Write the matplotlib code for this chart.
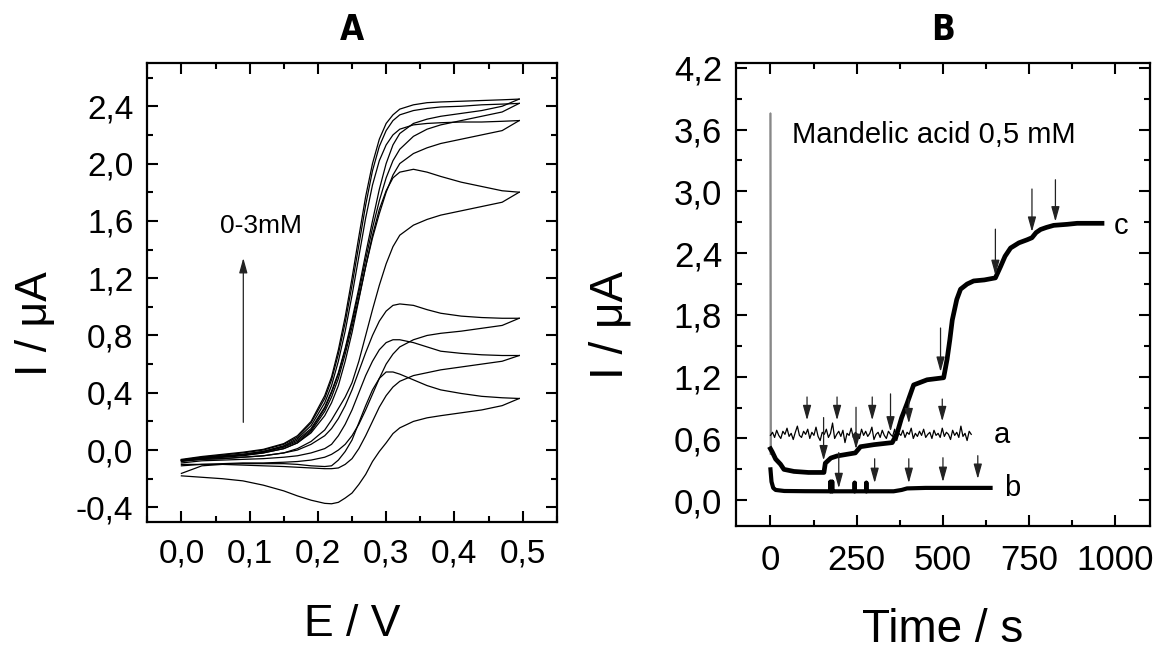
import matplotlib
matplotlib.use("Agg")
import matplotlib.pyplot as plt
from matplotlib.ticker import MultipleLocator

plt.rcParams['font.family'] = ['Liberation Sans', 'DejaVu Sans']

# --- Panel A: cyclic voltammograms (0-3 mM) ---
potential = [0.00, 0.03, 0.06, 0.09, 0.12, 0.15, 0.17, 0.19, 0.21, 0.22, 0.23, 0.24, 0.25, 0.26,
             0.27, 0.28, 0.29, 0.30, 0.31, 0.32, 0.34, 0.36, 0.38, 0.41, 0.44, 0.47, 0.495]

cv_forward = [
    [-0.163, -0.11, -0.10, -0.095, -0.095, -0.095, -0.10, -0.11, -0.115, -0.11, -0.07, -0.01, 0.07, 0.19,
     0.31, 0.42, 0.50, 0.545, 0.545, 0.53, 0.49, 0.45, 0.42, 0.395, 0.375, 0.365, 0.36],
    [-0.09, -0.075, -0.07, -0.065, -0.06, -0.05, -0.04, -0.02, 0.01, 0.04, 0.10, 0.18, 0.28, 0.40,
     0.52, 0.62, 0.70, 0.75, 0.77, 0.77, 0.75, 0.72, 0.69, 0.675, 0.665, 0.66, 0.66],
    [-0.08, -0.065, -0.06, -0.05, -0.04, -0.02, 0.00, 0.04, 0.10, 0.15, 0.22, 0.31, 0.42, 0.55,
     0.68, 0.80, 0.90, 0.97, 1.01, 1.02, 1.01, 0.98, 0.955, 0.935, 0.925, 0.92, 0.92],
    [-0.07, -0.055, -0.045, -0.035, -0.02, 0.01, 0.05, 0.12, 0.24, 0.33, 0.45, 0.62, 0.82, 1.05,
     1.28, 1.50, 1.68, 1.81, 1.90, 1.94, 1.96, 1.94, 1.91, 1.87, 1.84, 1.81, 1.80],
    [-0.07, -0.05, -0.04, -0.03, -0.01, 0.03, 0.08, 0.17, 0.33, 0.45, 0.62, 0.83, 1.08, 1.35,
     1.62, 1.85, 2.02, 2.13, 2.20, 2.24, 2.27, 2.28, 2.285, 2.29, 2.29, 2.295, 2.30],
    [-0.07, -0.05, -0.035, -0.02, 0.00, 0.04, 0.09, 0.19, 0.36, 0.49, 0.67, 0.89, 1.15, 1.43,
     1.71, 1.95, 2.12, 2.23, 2.30, 2.34, 2.37, 2.385, 2.395, 2.40, 2.41, 2.415, 2.42],
    [-0.065, -0.045, -0.03, -0.015, 0.005, 0.045, 0.10, 0.20, 0.38, 0.51, 0.70, 0.93, 1.20, 1.49,
     1.77, 2.00, 2.17, 2.28, 2.34, 2.38, 2.41, 2.425, 2.43, 2.435, 2.44, 2.445, 2.45],
]

cv_reverse = [
    [-0.18, -0.19, -0.20, -0.215, -0.245, -0.285, -0.32, -0.35, -0.372, -0.375, -0.365, -0.335, -0.30, -0.24,
     -0.17, -0.08, -0.01, 0.05, 0.115, 0.155, 0.20, 0.225, 0.24, 0.26, 0.28, 0.31, 0.36],
    [-0.11, -0.10, -0.10, -0.105, -0.11, -0.115, -0.12, -0.125, -0.13, -0.13, -0.125, -0.10, -0.06, 0.01,
     0.10, 0.20, 0.30, 0.38, 0.44, 0.48, 0.52, 0.54, 0.56, 0.58, 0.60, 0.62, 0.66],
    [-0.10, -0.10, -0.095, -0.09, -0.09, -0.085, -0.08, -0.07, -0.05, -0.03, 0.00, 0.04, 0.10, 0.18,
     0.28, 0.39, 0.50, 0.60, 0.67, 0.72, 0.77, 0.80, 0.815, 0.83, 0.85, 0.87, 0.92],
    [-0.075, -0.065, -0.06, -0.05, -0.04, -0.02, 0.01, 0.06, 0.14, 0.21, 0.29, 0.37, 0.47, 0.62,
     0.80, 0.98, 1.15, 1.30, 1.42, 1.50, 1.57, 1.61, 1.64, 1.67, 1.70, 1.73, 1.80],
    [-0.07, -0.06, -0.05, -0.04, -0.02, 0.01, 0.05, 0.13, 0.27, 0.37, 0.50, 0.67, 0.86, 1.06,
     1.28, 1.48, 1.65, 1.80, 1.92, 2.00, 2.07, 2.11, 2.14, 2.17, 2.20, 2.23, 2.30],
    [-0.075, -0.06, -0.05, -0.035, -0.015, 0.02, 0.06, 0.14, 0.29, 0.40, 0.53, 0.70, 0.89, 1.10,
     1.33, 1.55, 1.74, 1.90, 2.02, 2.10, 2.19, 2.24, 2.27, 2.30, 2.33, 2.36, 2.42],
    [-0.07, -0.055, -0.045, -0.03, -0.01, 0.025, 0.07, 0.15, 0.30, 0.41, 0.54, 0.71, 0.91, 1.13,
     1.37, 1.60, 1.82, 2.00, 2.13, 2.21, 2.28, 2.31, 2.33, 2.35, 2.37, 2.40, 2.45],
]

a_yticks = [-0.4, 0.0, 0.4, 0.8, 1.2, 1.6, 2.0, 2.4]
a_ylabels = ['-0,4', '0,0', '0,4', '0,8', '1,2', '1,6', '2,0', '2,4']
a_xticks = [0.0, 0.1, 0.2, 0.3, 0.4, 0.5]
a_xlabels = ['0,0', '0,1', '0,2', '0,3', '0,4', '0,5']

# --- Panel B: amperometric responses ---
a_time = [0, 6, 12, 18, 24, 30, 36, 42, 48, 54, 60, 66, 72, 78, 84, 90, 96, 102, 108, 114,
          120, 126, 132, 138, 144, 150, 156, 162, 168, 174, 180, 186, 192, 198, 204, 210, 216, 222, 228, 234,
          240, 246, 252, 258, 264, 270, 276, 282, 288, 294, 300, 306, 312, 318, 324, 330, 336, 342, 348, 354,
          360, 366, 372, 378, 384, 390, 396, 402, 408, 414, 420, 426, 432, 438, 444, 450, 456, 462, 468, 474,
          480, 486, 492, 498, 504, 510, 516, 522, 528, 534, 540, 546, 552, 558, 564, 570, 576, 582]
a_current = [0.63, 0.66, 0.61, 0.68, 0.63, 0.60, 0.67, 0.64, 0.70, 0.62, 0.65, 0.59, 0.66, 0.72, 0.63, 0.61, 0.67, 0.64, 0.69, 0.60,
             0.66, 0.63, 0.71, 0.62, 0.58, 0.66, 0.64, 0.69, 0.61, 0.65, 0.75, 0.60, 0.64, 0.67, 0.62, 0.68, 0.56, 0.65, 0.63, 0.70,
             0.61, 0.66, 0.64, 0.60, 0.69, 0.63, 0.67, 0.62, 0.65, 0.71, 0.59, 0.64, 0.66, 0.61, 0.68, 0.63, 0.60, 0.67, 0.64, 0.62,
             0.69, 0.58, 0.65, 0.63, 0.68, 0.61, 0.66, 0.64, 0.70, 0.60, 0.65, 0.62, 0.67, 0.63, 0.69, 0.61, 0.64, 0.66, 0.60, 0.68,
             0.63, 0.65, 0.61, 0.70, 0.62, 0.66, 0.64, 0.59, 0.68, 0.63, 0.66, 0.61, 0.72, 0.62, 0.65, 0.58, 0.67, 0.64]

b_time = [0, 3, 8, 15, 40, 100, 174, 174, 174, 179, 179, 179, 244, 244, 244, 278, 278, 278,
          357, 380, 396, 450, 550, 638]
b_current = [0.30, 0.18, 0.12, 0.10, 0.09, 0.088, 0.087, 0.18, 0.087, 0.087, 0.18, 0.087, 0.087, 0.17, 0.087,
             0.087, 0.17, 0.087, 0.087, 0.10, 0.115, 0.12, 0.12, 0.12]

c_time = [0, 5, 15, 29, 39, 68, 110, 155, 159, 175, 193, 246, 261, 300, 353, 367, 380, 396, 415, 454,
          502, 512, 520, 527, 540, 551, 570, 589, 620, 652, 667, 680, 696, 720, 744, 758, 770, 783, 800,
          821, 860, 889, 930, 961]
c_current = [0.50, 0.47, 0.40, 0.35, 0.30, 0.28, 0.27, 0.27, 0.36, 0.41, 0.43, 0.46, 0.52, 0.54, 0.56, 0.65,
             0.80, 0.94, 1.12, 1.17, 1.19, 1.37, 1.56, 1.75, 1.95, 2.05, 2.10, 2.13, 2.14, 2.16, 2.27, 2.37,
             2.45, 2.50, 2.53, 2.55, 2.60, 2.63, 2.65, 2.67, 2.68, 2.69, 2.69, 2.69]

spike_time = [0, 0, 1]
spike_current = [0.45, 3.76, 0.45]

# injection arrows: (time, tail, head)
arrows_a = [(106, 1.03, 0.75), (193, 1.03, 0.75), (295, 1.03, 0.75), (401, 1.01, 0.72), (498, 1.01, 0.74)]
arrows_b = [(198, 0.49, 0.09), (302, 0.43, 0.14), (401, 0.43, 0.14), (500, 0.44, 0.15), (601, 0.46, 0.18)]
arrows_c = [(154, 0.83, 0.36), (248, 0.93, 0.47), (348, 1.06, 0.64), (493, 1.70, 1.22),
            (652, 2.66, 2.16), (758, 3.05, 2.58), (826, 3.14, 2.68)]

b_yticks = [0.0, 0.6, 1.2, 1.8, 2.4, 3.0, 3.6, 4.2]
b_ylabels = ['0,0', '0,6', '1,2', '1,8', '2,4', '3,0', '3,6', '4,2']
b_xticks = [0, 250, 500, 750, 1000]

fig = plt.figure(figsize=(11.57, 6.53), dpi=100)

# ---------------- Panel A ----------------
axA = fig.add_axes([0.1273, 0.2011, 0.3539, 0.702])
for fwd, rev in zip(cv_forward, cv_reverse):
    axA.plot(potential, fwd, color='black', lw=0.9)
    axA.plot(potential, rev, color='black', lw=0.9)

axA.annotate('', xy=(0.0907, 1.36), xytext=(0.0907, 0.174),
             arrowprops=dict(arrowstyle='-|>,head_length=0.9,head_width=0.25', color='#222222', lw=0.9))
axA.text(0.056, 1.565, '0-3mM', fontsize=19, va='center', ha='left')

axA.set_xlim(-0.05, 0.55)
axA.set_ylim(-0.5, 2.7)
axA.set_xticks(a_xticks)
axA.set_xticklabels(a_xlabels)
axA.set_yticks(a_yticks)
axA.set_yticklabels(a_ylabels)
axA.xaxis.set_minor_locator(MultipleLocator(0.05))
axA.yaxis.set_minor_locator(MultipleLocator(0.2))
axA.tick_params(which='both', direction='in', top=True, right=True, width=1.5, labelsize=24)
axA.tick_params(axis='x', pad=12)
axA.tick_params(axis='y', pad=10)
axA.tick_params(which='major', length=8)
axA.tick_params(which='minor', length=4)
for s in axA.spines.values():
    s.set_linewidth(1.6)
axA.set_xlabel('E / V', fontsize=32)
axA.set_ylabel('I / μA', fontsize=32)
axA.xaxis.set_label_coords(0.5, -0.18)
axA.yaxis.set_label_coords(-0.223, 0.431)
axA.text(0.5, 1.072, 'A', transform=axA.transAxes, ha='center', va='center',
         fontsize=25, fontweight='bold', family='DejaVu Sans', fontstretch='condensed')

# ---------------- Panel B ----------------
axB = fig.add_axes([0.6361, 0.1945, 0.3578, 0.7095])
axB.plot(spike_time, spike_current, color='#888888', lw=1.2)
axB.plot(a_time, a_current, color='black', lw=0.9)
axB.plot(b_time, b_current, color='black', lw=3)
axB.plot(c_time, c_current, color='black', lw=3.4)

arrow_style = dict(arrowstyle='-|>,head_length=0.9,head_width=0.25', color='#222222', lw=0.9)
for t, tail, head in arrows_a + arrows_b + arrows_c:
    axB.annotate('', xy=(t, head), xytext=(t, tail), arrowprops=arrow_style)

axB.text(63, 3.55, 'Mandelic acid 0,5 mM', fontsize=21, va='center', ha='left')
axB.text(647, 0.63, 'a', fontsize=21, va='center', ha='left')
axB.text(676, 0.12, 'b', fontsize=21, va='center', ha='left')
axB.text(995, 2.66, 'c', fontsize=21, va='center', ha='left')

axB.set_xlim(-100, 1100)
axB.set_ylim(-0.25, 4.25)
axB.set_xticks(b_xticks)
axB.set_yticks(b_yticks)
axB.set_yticklabels(b_ylabels)
axB.xaxis.set_minor_locator(MultipleLocator(125))
axB.yaxis.set_minor_locator(MultipleLocator(0.3))
axB.tick_params(which='both', direction='in', top=True, right=True, width=1.5, labelsize=25)
axB.tick_params(axis='x', pad=13)
axB.tick_params(axis='y', pad=10)
axB.tick_params(which='major', length=8)
axB.tick_params(which='minor', length=4)
for s in axB.spines.values():
    s.set_linewidth(1.6)
axB.set_xlabel('Time / s', fontsize=33)
axB.set_ylabel('I / μA', fontsize=33)
axB.xaxis.set_label_coords(0.5, -0.178)
axB.yaxis.set_label_coords(-0.251, 0.434)
axB.text(0.5, 1.07, 'B', transform=axB.transAxes, ha='center', va='center',
         fontsize=25, fontweight='bold', family='DejaVu Sans', fontstretch='condensed')

fig.savefig('out.png', dpi=100)
